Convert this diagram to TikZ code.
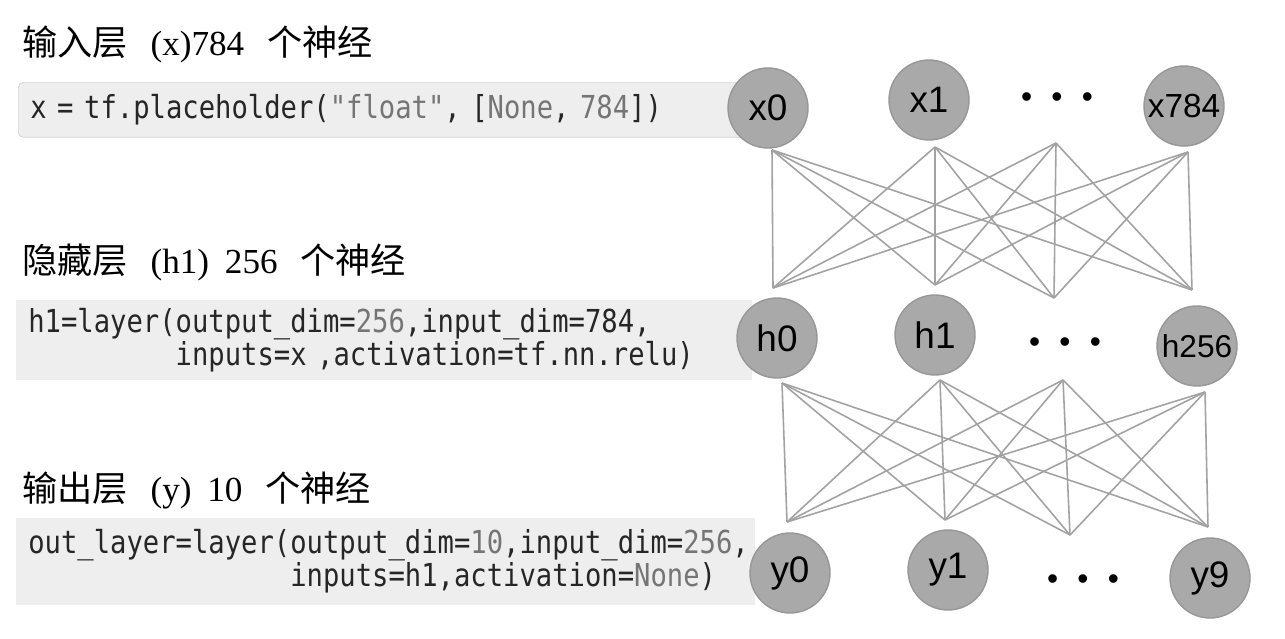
\documentclass[tikz,border=0pt]{standalone}
\usepackage{fontspec}
\setmainfont{Liberation Serif}
\setsansfont{Liberation Sans}
\setmonofont{DejaVu Sans Mono}[FakeStretch=0.86]
\newfontfamily\cjk{Noto Sans CJK SC}
\usetikzlibrary{positioning}
\definecolor{nodegray}{HTML}{A9A9A9}
\definecolor{nodeedge}{HTML}{979797}
\definecolor{linkgray}{HTML}{A2A2A2}
\definecolor{codebg}{HTML}{EEEEEE}
\definecolor{codeedge}{HTML}{D2D2D2}
\definecolor{codetext}{HTML}{262626}
\definecolor{litgray}{HTML}{757575}
\newcommand{\lit}[1]{\textcolor{litgray}{#1}}
\tikzstyle{neuron} = [circle, minimum size=1.6cm, inner sep=0pt, fill=nodegray, draw=nodeedge, line width=0.8pt, font=\sffamily\fontsize{21}{21}\selectfont]
\tikzstyle{ellip} = [inner sep=0pt, font=\sffamily\fontsize{18}{18}\selectfont]
\tikzstyle{link} = [draw=linkgray, line width=0.9pt]
\tikzstyle{codebox} = [anchor=north west, align=left, fill=codebg, inner xsep=0.24cm, inner ysep=0pt, font=\ttfamily\fontsize{18}{19}\selectfont, text=codetext]
\tikzstyle{layerlabel} = [anchor=west, inner sep=0pt, font=\fontsize{20}{20}\selectfont]

\begin{document}
\begin{tikzpicture}[x=0.02cm, y=-0.02cm]
    \useasboundingbox (0,0) rectangle (1285,639);

    \node (inlabel) [layerlabel] at (22,44) {{\cjk 输入层}\hspace{13pt}(x)784\hspace{13pt}{\cjk 个神经}};
    \node (incode) [codebox, draw=codeedge, rounded corners=3pt, text width=14.06cm, minimum height=1.1cm] at (18,82) {x = tf.placeholder(\lit{"float"}, [\lit{None}, \lit{784}])};

    \node (hidlabel) [layerlabel] at (22,262) {{\cjk 隐藏层}\hspace{13pt}(h1)\hspace{9pt}256\hspace{13pt}{\cjk 个神经}};
    \node (hidcode) [codebox, text width=14.24cm, minimum height=1.6cm] at (16,300) {h1=layer(output\_dim=\lit{256},input\_dim=784,\\\phantom{h1=layer(}inputs=x ,activation=tf.nn.relu)};

    \node (outlabel) [layerlabel] at (22,490) {{\cjk 输出层}\hspace{13pt}(y)\hspace{9pt}10\hspace{13pt}{\cjk 个神经}};
    \node (outcode) [codebox, text width=14.3cm, minimum height=1.74cm] at (16,518) {out\_layer=layer(output\_dim=\lit{10},input\_dim=\lit{256},\\\phantom{out\_layer=layer(}inputs=h1,activation=\lit{None})};

    \coordinate (x0b) at (772,150);
    \coordinate (x1b) at (935,147);
    \coordinate (xdb) at (1056,143);
    \coordinate (x784b) at (1188,152);
    \coordinate (h0t) at (773,288);
    \coordinate (h1t) at (935,285);
    \coordinate (hdt) at (1054,298);
    \coordinate (h256t) at (1192,290);

    \coordinate (h0b) at (782,383);
    \coordinate (h1b) at (940,380);
    \coordinate (hdb) at (1063,380);
    \coordinate (h256b) at (1205,392);
    \coordinate (y0t) at (787,522);
    \coordinate (y1t) at (945,520);
    \coordinate (ydt) at (1070,535);
    \coordinate (y9t) at (1208,527);

    \foreach \a in {x0b,x1b,xdb,x784b}
        \foreach \b in {h0t,h1t,hdt,h256t}
            \draw [link] (\a) -- (\b);
    \foreach \a in {h0b,h1b,hdb,h256b}
        \foreach \b in {y0t,y1t,ydt,y9t}
            \draw [link] (\a) -- (\b);

    \node (x0) [neuron] at (768,108) {x0};
    \node (x1) [neuron] at (929,100) {x1};
    \node (xdots) [ellip] at (1057,100) {•\hspace{11pt}•\hspace{11pt}•};
    \node (x784) [neuron, font=\sffamily\fontsize{19}{19}\selectfont] at (1184,106) {x784};

    \node (h0) [neuron] at (777,338) {h0};
    \node (h1) [neuron] at (935,335) {h1};
    \node (hdots) [ellip] at (1065,345) {•\hspace{11pt}•\hspace{11pt}•};
    \node (h256) [neuron, font=\sffamily\fontsize{18}{18}\selectfont] at (1197,346) {h256};

    \node (y0) [neuron] at (790,573) {y0};
    \node (y1) [neuron] at (948,570) {y1};
    \node (ydots) [ellip] at (1083,582) {•\hspace{11pt}•\hspace{11pt}•};
    \node (y9) [neuron] at (1210,578) {y9};
\end{tikzpicture}
\end{document}
